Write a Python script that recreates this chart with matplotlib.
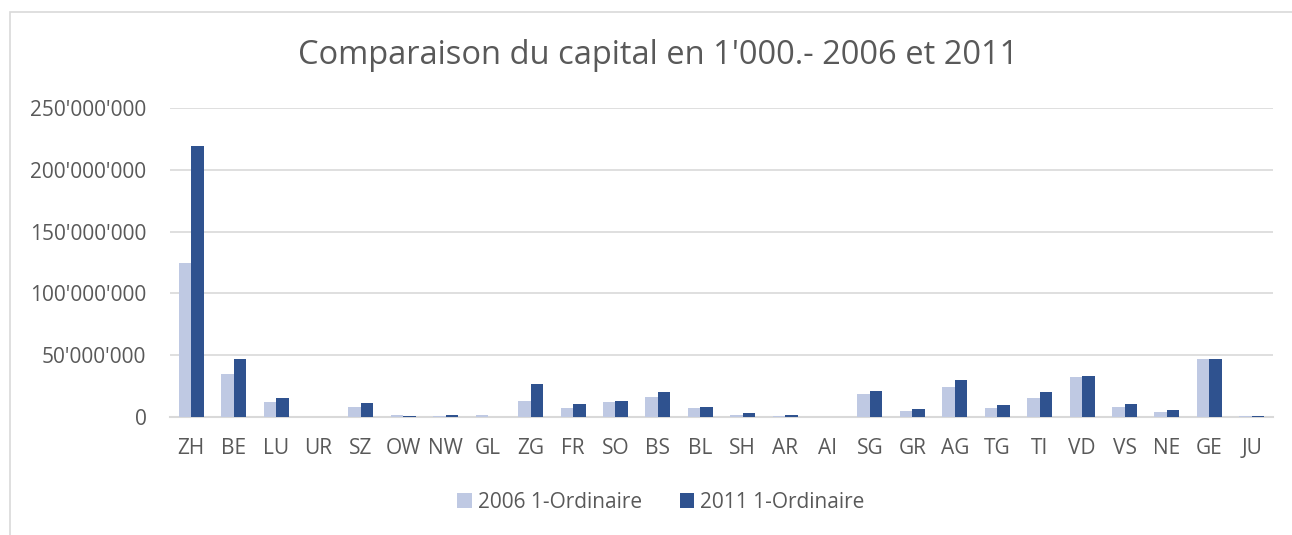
import numpy as np
import matplotlib.pyplot as plt
from matplotlib.patches import Rectangle
from matplotlib.ticker import FuncFormatter

# Cantons et capital (en 1'000.-)
cantons = ['ZH', 'BE', 'LU', 'UR', 'SZ', 'OW', 'NW', 'GL', 'ZG', 'FR', 'SO', 'BS', 'BL',
           'SH', 'AR', 'AI', 'SG', 'GR', 'AG', 'TG', 'TI', 'VD', 'VS', 'NE', 'GE', 'JU']
cap_2006 = [125.0, 34.5, 12.0, 0.3, 7.8, 1.4, 1.0, 1.3, 13.0, 7.5, 12.0, 16.0, 7.3,
            2.0, 1.0, 0.3, 18.4, 4.8, 24.3, 7.3, 15.4, 32.4, 7.8, 3.8, 47.2, 1.0]
cap_2011 = [219.0, 47.0, 15.0, 0.3, 11.5, 0.5, 2.0, 0.3, 26.5, 10.5, 12.7, 20.0, 8.0,
            3.0, 1.5, 0.3, 21.0, 6.5, 29.7, 9.5, 20.0, 33.2, 10.8, 5.4, 46.7, 1.2]
cap_2006 = np.array(cap_2006) * 1e6
cap_2011 = np.array(cap_2011) * 1e6

c_light = '#BFC9E3'
c_dark = '#2F528F'
c_text = '#595959'
c_grid = '#D9D9D9'

plt.rcParams['font.family'] = ['Open Sans', 'DejaVu Sans']

fig = plt.figure(figsize=(12.92, 5.35), dpi=100)
ax = fig.add_axes([170 / 1292, 118 / 535, 1103 / 1292, 309 / 535])

# cadre du graphique
fig.patches.append(Rectangle((10 / 1292, -0.1), 1.2, (535 - 12) / 535 + 0.1,
                             transform=fig.transFigure, fill=False,
                             edgecolor='#D9D9D9', linewidth=1.2))

x = np.arange(len(cantons))
w = 0.295
ax.bar(x - w / 2, cap_2006, w, color=c_light, label='2006 1-Ordinaire', zorder=3)
ax.bar(x + w / 2, cap_2011, w, color=c_dark, label='2011 1-Ordinaire', zorder=3)

ax.set_xlim(-0.5, len(cantons) - 0.5)
ax.set_ylim(0, 250e6)
ax.set_yticks(np.arange(0, 250e6 + 1, 50e6))
ax.yaxis.set_major_formatter(FuncFormatter(lambda v, p: f"{int(v):,}".replace(',', "'")))
ax.set_xticks(x)
ax.set_xticklabels(cantons)
ax.tick_params(axis='both', length=0, labelsize=15, colors=c_text)
ax.tick_params(axis='x', pad=15)
ax.tick_params(axis='y', pad=17)
ax.grid(axis='y', color=c_grid, linewidth=1.2, zorder=0)
for s in ['top', 'right', 'left']:
    ax.spines[s].set_visible(False)
ax.spines['bottom'].set_color(c_grid)
ax.spines['bottom'].set_linewidth(1.5)

fig.text(658 / 1292, 1 - 55 / 535, "Comparaison du capital en 1'000.- 2006 et 2011",
         ha='center', va='center', fontsize=23.5, color=c_text)

leg = fig.legend(loc='center', bbox_to_anchor=(661 / 1292, 1 - 502 / 535), ncol=2,
                 frameon=False, fontsize=15, handlelength=0.7, handleheight=0.7,
                 columnspacing=1.8, handletextpad=0.3)
for t in leg.get_texts():
    t.set_color(c_text)

fig.savefig('out.png', dpi=100)
